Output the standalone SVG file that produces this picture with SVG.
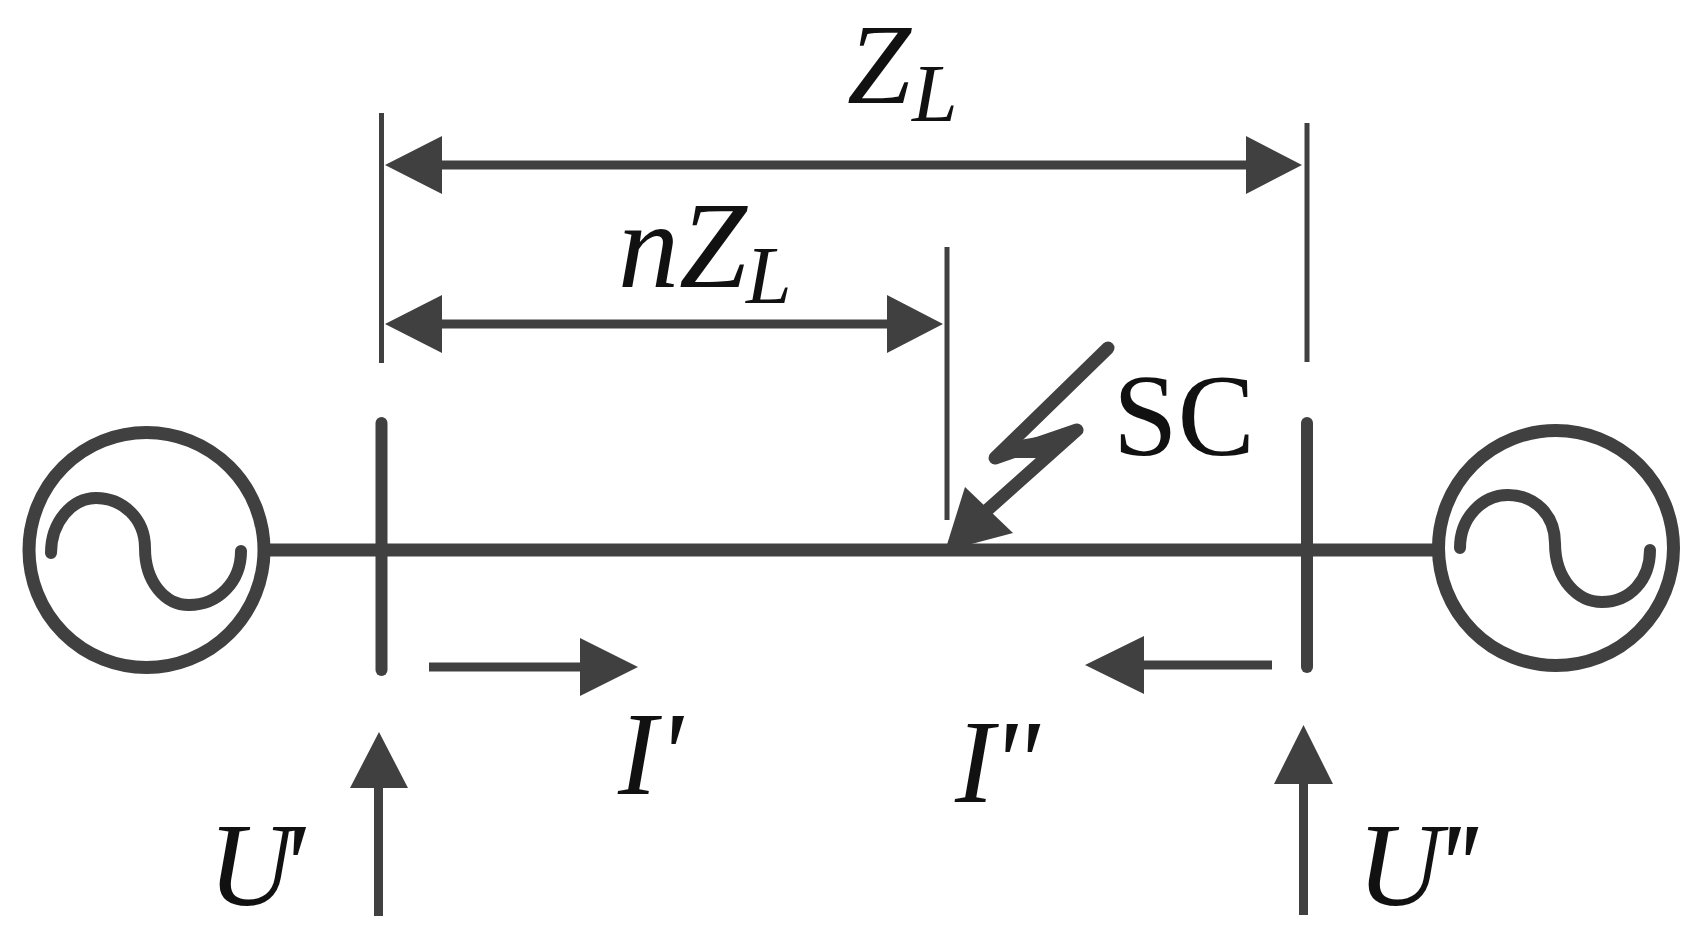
<svg xmlns="http://www.w3.org/2000/svg" width="1700" height="936" viewBox="0 0 1700 936">
<style>
.l{stroke:#404040;fill:none;stroke-linecap:butt}
.r{stroke-linecap:round;stroke-linejoin:round}
.h{fill:#404040;stroke:none}
text{font-family:'Liberation Serif','Times New Roman',serif;fill:#111}
.t{font-style:italic}
.big{font-size:115px}.big2{font-size:122px}.sub{font-size:82px}.lab{font-size:118px}
</style>
<rect width="1700" height="936" fill="#fff"/>
<g id="connectors">
<path class="l" stroke-width="13" d="M268 550H1438"/>
<path class="l" stroke-width="5" d="M381.500 113V363M1307 123V362M947 247V520"/>
<path class="l" stroke-width="9" d="M440 165H1248M440 324H890"/>
<path class="h" d="M385 165L442 136V194ZM1302 165L1246 136V194ZM385 324L442 295V353ZM943 324L887 295V353Z"/>
<path class="l" stroke-width="9" d="M429 667H582M1272 665H1142"/>
<path class="h" d="M638 667L580 638V696ZM1085 665L1144 636V694Z"/>
<path class="l" stroke-width="9" d="M378.500 916V785M1303.500 915V782"/>
<path class="h" d="M379 732L350 788H408ZM1303.500 725L1274 784H1333Z"/>
<path class="l r" stroke-width="13" d="M1108 348L995 458L1077 430L985 512"/>
<path class="h" d="M995 458L1020 440L1077 430L1040 458Z"/>
<path class="h" d="M945 551L965 487L1013 533Z"/>
</g>
<g id="gen-left"><circle class="l" cx="146.500" cy="550" r="117.500" stroke-width="13"/><path class="l r" stroke-width="12" d="M51 553C51 522 72 498 96 498C122 498 145 518 145 548C145 582 165 605 189 605C218 605 241 582 241 551"/></g>
<g id="gen-right"><circle class="l" cx="1556" cy="548" r="117.500" stroke-width="13"/><path class="l r" stroke-width="12" d="M1460 548C1460 518 1482 495 1508 495C1535 495 1555 515 1555 543C1555 580 1578 602 1602 602C1630 602 1650 580 1650 550"/></g>
<g id="bus-left"><path class="l r" stroke-width="12" d="M381.500 423V670"/></g>
<g id="bus-right"><path class="l r" stroke-width="12" d="M1307 423V667"/></g>
<g id="labels">
<text class="t big" x="847" y="103">Z</text><text class="t sub" x="912" y="121">L</text>
<text class="t big2" x="618" y="287">n</text><text class="t big2" x="679" y="287">Z</text><text class="t sub" x="746" y="303">L</text>
<text x="1113" y="455" font-size="116">SC</text>
<text class="t lab" x="618" y="794">I'</text>
<text class="t lab" x="955" y="802" letter-spacing="-3">I''</text>
<text class="t lab" x="208" y="905" letter-spacing="-14">U'</text>
<text class="t lab" x="1357" y="905" letter-spacing="-8">U''</text>
</g>
</svg>
